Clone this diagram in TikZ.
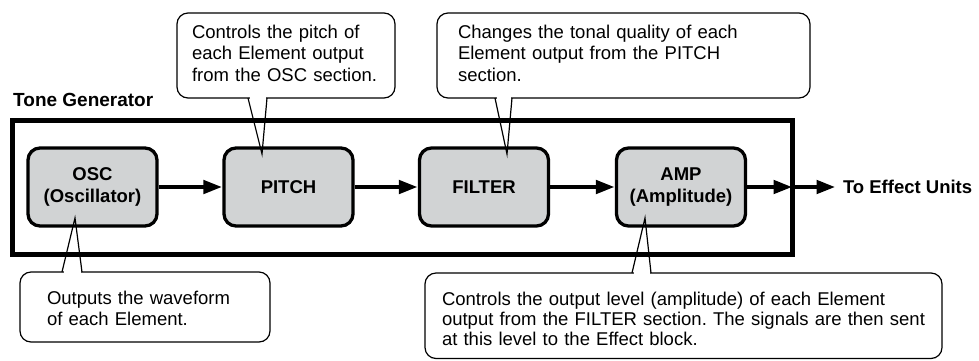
\documentclass[tikz,border=0pt]{standalone}
\usepackage{fontspec}
\setmainfont{Liberation Sans}
\usetikzlibrary{arrows.meta,calc,positioning}

\definecolor{boxgray}{HTML}{D1D3D4}

\tikzset{
    frame/.style={draw=black, line width=5pt, minimum width=780pt, minimum height=133.5pt, inner sep=0pt, outer sep=0pt},
    block/.style={draw=black, fill=boxgray, line width=3.3pt, rounded corners=12pt, minimum width=129pt, minimum height=78pt, align=center, font=\fontsize{18.5}{22}\selectfont\bfseries},
    flow/.style={line width=4.5pt, -{Triangle[length=19pt,width=13pt]}},
    note/.style={draw=black, fill=white, line width=1.2pt, rounded corners=11pt, align=left, inner ysep=0pt, outer sep=0pt, font=\fontsize{18.5}{21.7}\selectfont\frenchspacing},
    pointer/.style={line width=1.2pt, line join=miter},
}

\begin{document}
\begin{tikzpicture}[x=1pt,y=-1pt]
    \useasboundingbox (0,0) rectangle (979,360);

    % tone generator
    \node[frame] (tg) at (402.5,187.25) {};
    \node[anchor=base west, inner sep=0pt, font=\fontsize{19}{22}\selectfont\bfseries] (tglabel) at (13,106) {Tone Generator};

    \node[block] (osc) at (92.5,187) {OSC\\(Oscillator)};
    \node[block] (pitch) at (288.5,187) {PITCH};
    \node[block] (filter) at (484,187) {FILTER};
    \node[block] (amp) at (681,187) {AMP\\(Amplitude)};

    % signal path
    \draw[flow] (osc) -- (pitch);
    \draw[flow] (pitch) -- (filter);
    \draw[flow] (filter) -- (amp);
    \draw[flow] (amp) -- (amp -| tg.east);
    \draw[flow] (amp -| tg.east) -- ++(43,0) coordinate (out);
    \node[right=4pt of out, font=\fontsize{18.5}{22}\selectfont\bfseries] (fx) {To Effect Units};

    % notes above
    \node[note, anchor=north west, inner xsep=15pt, text width=188pt, text height=25pt, text depth=60pt] (pitchnote) at (177,13) {Controls the pitch of\\each Element output\\from the OSC section.};
    \node[note, anchor=north west, inner xsep=21pt, text width=331pt, text height=25pt, text depth=60pt] (filternote) at (437,13) {Changes the tonal quality of each\\Element output from the PITCH\\section.};

    % notes below
    \node[note, anchor=north west, inner xsep=27pt, text width=196pt, text height=32pt, text depth=38pt, font=\fontsize{18.5}{21}\selectfont\frenchspacing] (oscnote) at (20,272) {Outputs the waveform\\of each Element.};
    \node[note, anchor=north west, inner xsep=17pt, text width=483pt, text height=32pt, text depth=53.5pt, font=\fontsize{18.5}{20.3}\selectfont\frenchspacing] (ampnote) at (425,273) {Controls the output level (amplitude) of each Element\\output from the FILTER section. The signals are then sent\\at this level to the Effect block.};

    % pointers
    \draw[white, line width=2.5pt] ($(pitchnote.south west)+(72.5,0)$) -- ($(pitchnote.south west)+(88.5,0)$);
    \draw[pointer] ($(pitchnote.south west)+(71,0)$) -- ($(pitch)+(-26.5,-33)$) -- ($(pitchnote.south west)+(90,0)$);

    \draw[white, line width=2.5pt] ($(filternote.south west)+(59.5,0)$) -- ($(filternote.south west)+(73.5,0)$);
    \draw[pointer] ($(filternote.south west)+(58,0)$) -- ($(filter)+(23,-33)$) -- ($(filternote.south west)+(75,0)$);

    \draw[white, line width=2.5pt] ($(oscnote.north west)+(43.5,0)$) -- ($(oscnote.north west)+(60.5,0)$);
    \draw[pointer] ($(oscnote.north west)+(42,0)$) -- ($(osc)+(-17.5,31)$) -- ($(oscnote.north west)+(62,0)$);

    \draw[white, line width=2.5pt] ($(ampnote.north west)+(208.5,0)$) -- ($(ampnote.north west)+(224.5,0)$);
    \draw[pointer] ($(ampnote.north west)+(207,0)$) -- ($(amp)+(-36,31)$) -- ($(ampnote.north west)+(226,0)$);
\end{tikzpicture}
\end{document}
